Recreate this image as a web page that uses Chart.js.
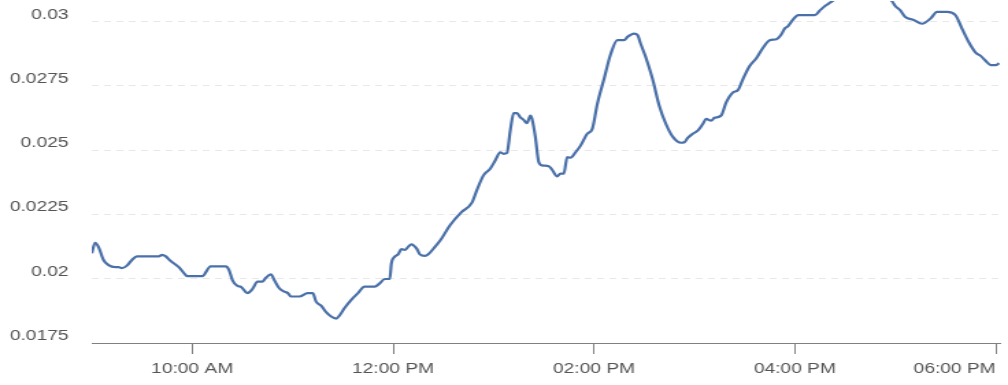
<!DOCTYPE html>
<html><head><meta charset="utf-8">
<script src="https://cdn.jsdelivr.net/npm/chart.js@4.4.1/dist/chart.umd.min.js"></script>
<style>
html,body{margin:0;padding:0;background:#fff;overflow:hidden;}
#wrap{position:absolute;left:0;top:0;width:736px;height:385px;transform:scaleX(1.369565);transform-origin:0 0;}
</style></head><body>
<div id="wrap"><canvas id="c"></canvas></div>
<script>
const times = ["09:00","09:02","09:04","09:07","09:10","09:14","09:16","09:18","09:21","09:24","09:27","09:40","09:42","09:44","09:47","09:52","09:56","09:57","10:06","10:11","10:20","10:22","10:24","10:27","10:29","10:33","10:36","10:39","10:42","10:44","10:47","10:49","10:52","10:55","10:57","10:59","11:04","11:09","11:12","11:14","11:17","11:20","11:23","11:26","11:28","11:31","11:35","11:39","11:43","11:49","11:52","11:55","11:58","11:59","12:01","12:03","12:05","12:07","12:09","12:11","12:14","12:16","12:19","12:21","12:25","12:29","12:34","12:41","12:47","12:50","12:54","12:58","13:01","13:04","13:06","13:08","13:10","13:12","13:14","13:16","13:18","13:20","13:22","13:23","13:25","13:27","13:29","13:33","13:35","13:38","13:40","13:42","13:44","13:46","13:49","13:52","13:56","13:59","14:02","14:06","14:10","14:14","14:18","14:20","14:24","14:26","14:28","14:31","14:35","14:39","14:43","14:47","14:52","14:54","14:56","14:59","15:02","15:05","15:07","15:10","15:12","15:16","15:19","15:23","15:26","15:29","15:33","15:37","15:41","15:45","15:49","15:52","15:54","15:56","15:59","16:02","16:12","16:15","16:18","16:21","16:30","16:39","16:48","16:54","16:58","17:00","17:03","17:06","17:11","17:16","17:21","17:25","17:31","17:36","17:40","17:44","17:48","17:51","17:55","17:57","18:00","18:02"];
const values = [0.02099,0.02140,0.02124,0.02073,0.02053,0.02045,0.02045,0.02041,0.02051,0.02073,0.02087,0.02087,0.02093,0.02088,0.02070,0.02045,0.02015,0.02010,0.02010,0.02048,0.02048,0.02034,0.01995,0.01972,0.01969,0.01944,0.01960,0.01989,0.01989,0.02004,0.02017,0.01995,0.01963,0.01950,0.01945,0.01931,0.01931,0.01944,0.01944,0.01911,0.01895,0.01870,0.01853,0.01845,0.01857,0.01886,0.01918,0.01944,0.01969,0.01969,0.01982,0.01999,0.01999,0.02060,0.02086,0.02095,0.02115,0.02112,0.02124,0.02134,0.02118,0.02095,0.02089,0.02095,0.02124,0.02157,0.02208,0.02260,0.02295,0.02344,0.02402,0.02428,0.02460,0.02492,0.02486,0.02489,0.02576,0.02644,0.02644,0.02628,0.02618,0.02605,0.02635,0.02622,0.02551,0.02454,0.02441,0.02438,0.02424,0.02398,0.02409,0.02409,0.02473,0.02471,0.02492,0.02518,0.02564,0.02583,0.02680,0.02777,0.02874,0.02928,0.02928,0.02941,0.02954,0.02948,0.02912,0.02861,0.02777,0.02673,0.02602,0.02553,0.02529,0.02531,0.02548,0.02564,0.02576,0.02602,0.02622,0.02615,0.02626,0.02635,0.02686,0.02725,0.02734,0.02777,0.02828,0.02858,0.02899,0.02928,0.02932,0.02951,0.02974,0.02983,0.03009,0.03026,0.03026,0.03044,0.03061,0.03074,0.03111,0.03131,0.03119,0.03096,0.03080,0.03061,0.03044,0.03018,0.03007,0.02992,0.03012,0.03038,0.03038,0.03025,0.02971,0.02919,0.02880,0.02867,0.02841,0.02831,0.02831,0.02839];
const yTickValues = [0.0175, 0.02, 0.0225, 0.025, 0.0275, 0.03];
const xTickTimes = ["09:00","10:00","12:00","14:00","16:00","18:00"];
const xStart = "09:00";
const xEndMinutes = 1082.6;
const yMin = 0.0175, yMax = 0.030802;

function toMin(t){ const p = t.split(':').map(Number); return p[0]*60 + p[1]; }
function fmtTime(min){
  const h = Math.floor(min/60), m = Math.round(min%60);
  const ap = h >= 12 ? 'PM' : 'AM';
  let h12 = h % 12; if (h12 === 0) h12 = 12;
  return String(h12).padStart(2,'0') + ':' + String(m).padStart(2,'0') + ' ' + ap;
}
const startMin = toMin(xStart);
const points = times.map((t,i) => ({x: toMin(t), y: values[i]}));

Chart.defaults.font.family = '"Liberation Sans", Arial, Helvetica, sans-serif';
Chart.defaults.font.size = 14;
Chart.defaults.color = '#555';

new Chart(document.getElementById('c'), {
  type: 'line',
  data: { datasets: [{
    data: points,
    borderColor: '#4a70a8',
    borderWidth: 2.2,
    pointRadius: 0,
    pointHoverRadius: 0,
    fill: false,
    cubicInterpolationMode: 'monotone'
  }]},
  options: {
    responsive: true,
    maintainAspectRatio: false,
    animation: false,
    layout: { padding: { left: 0, right: 5.8, top: 0, bottom: 0 } },
    plugins: { legend: { display: false }, tooltip: { enabled: false } },
    scales: {
      x: {
        type: 'linear',
        min: startMin,
        max: xEndMinutes,
        afterBuildTicks: s => { s.ticks = xTickTimes.map(t => ({ value: toMin(t) })); },
        afterFit: s => { s.height = 42; s.paddingLeft = 0; s.paddingRight = 0; },
        grid: {
          drawOnChartArea: false,
          drawTicks: true,
          tickLength: 11,
          color: '#808080',
          tickColor: ctx => (ctx.tick && ctx.tick.value === startMin) ? 'rgba(0,0,0,0)' : '#808080',
          tickWidth: 1
        },
        border: { display: true, color: '#808080', width: 1 },
        ticks: {
          autoSkip: false,
          maxRotation: 0,
          minRotation: 0,
          padding: 7,
          align: 'inner',
          color: '#555',
          callback: v => v === startMin ? '' : fmtTime(v)
        }
      },
      y: {
        min: yMin,
        max: yMax,
        afterBuildTicks: s => { s.ticks = yTickValues.map(v => ({ value: v })); },
        afterFit: s => { s.width = 67; s.paddingTop = 0; s.paddingBottom = 0; },
        grid: {
          drawTicks: false,
          color: ctx => (ctx.tick && Math.abs(ctx.tick.value - yMin) < 1e-9) ? 'rgba(0,0,0,0)' : '#e8e8e8',
          lineWidth: 1
        },
        border: { display: false, dash: [5, 4] },
        ticks: {
          padding: 17,
          labelOffset: -7,
          color: '#555',
          callback: v => String(+v.toFixed(4))
        }
      }
    }
  }
});
</script>
</body></html>
